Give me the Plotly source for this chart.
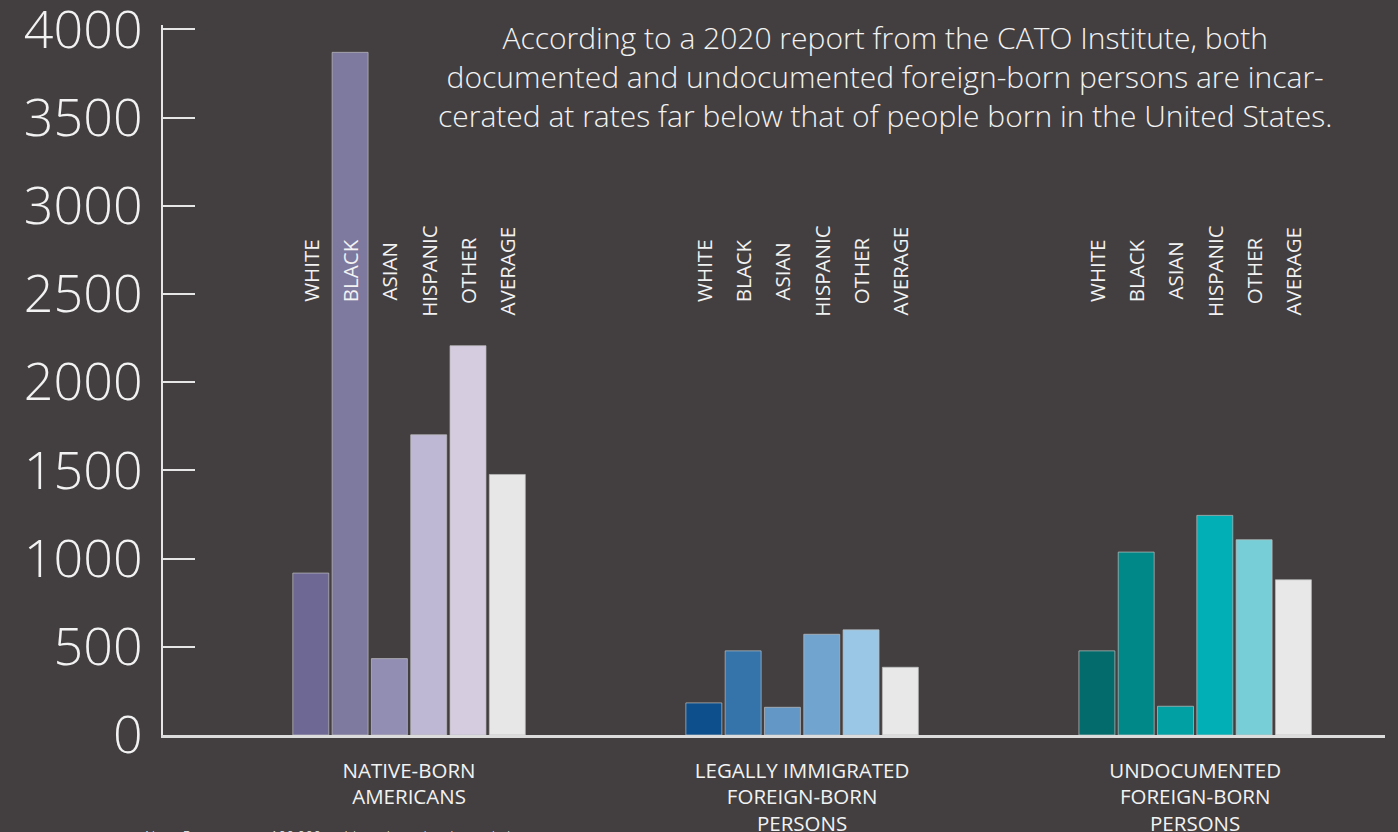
import plotly.graph_objects as go

# ---- data ----
groups = ["NATIVE-BORN<br>AMERICANS", "LEGALLY IMMIGRATED<br>FOREIGN-BORN<br>PERSONS", "UNDOCUMENTED<br>FOREIGN-BORN<br>PERSONS"]
races = ["WHITE", "BLACK", "ASIAN", "HISPANIC", "OTHER", "AVERAGE"]
native_born = [918, 3870, 433, 1702, 2207, 1477]
legal_immigrants = [182, 477, 157, 571, 596, 384]
undocumented = [477, 1037, 163, 1245, 1107, 880]
y_ticks = [0, 500, 1000, 1500, 2000, 2500, 3000, 3500, 4000]
title_text = ("According to a 2020 report from the CATO Institute, both<br>"
              "documented and undocumented foreign-born persons are incar-<br>"
              "cerated at rates far below that of people born in the United States.")
note_text = "Note: Rates are per 100,000 residents in each subpopulation"

# ---- styles ----
BG = "#433f40"
FG = "#f2f2f2"
FONT = "Open Sans"
native_colors = ["#6e6894", "#7e799f", "#928eb3", "#bfb8d4", "#d5cce0", "#e8e7e8"]
legal_colors = ["#0c4f8c", "#3474aa", "#6397c6", "#71a5d0", "#9ac7e6", "#e8e8e8"]
undoc_colors = ["#036b6b", "#008787", "#00a0a3", "#00b0b6", "#77ced6", "#e8e8e8"]

series = [native_born, legal_immigrants, undocumented]
palettes = [native_colors, legal_colors, undoc_colors]

fig = go.Figure()
for j, race in enumerate(races):
    fig.add_trace(go.Bar(
        x=list(range(len(groups))),
        y=[s[j] for s in series],
        name=race,
        marker=dict(color=[p[j] for p in palettes],
                    line=dict(color="rgba(190,190,190,0.7)", width=1)),
        hoverinfo="skip",
    ))

BARGAP = 0.4
BARGROUPGAP = 0.085
slot = (1 - BARGAP) / len(races)

annotations = []
for gi in range(len(groups)):
    for j, race in enumerate(races):
        annotations.append(dict(
            x=gi + (j - (len(races) - 1) / 2) * slot, y=2630, xref="x", yref="y",
            text=race, textangle=-90, showarrow=False,
            font=dict(family=FONT, size=20.5, color=FG, weight=400),
            xanchor="center", yanchor="middle",
        ))

annotations.append(dict(
    x=0.591, y=1.0, xref="paper", yref="paper", text=title_text, showarrow=False,
    align="center", xanchor="center", yanchor="top", yshift=10,
    font=dict(family=FONT, size=30, color=FG, weight=300),
))
annotations.append(dict(
    x=-0.0164, y=-0.127, xref="paper", yref="paper", text=note_text, showarrow=False,
    align="left", xanchor="left", yanchor="top",
    font=dict(family=FONT, size=14, color=FG, weight=300),
))

fig.update_layout(
    width=1398, height=832,
    paper_bgcolor=BG, plot_bgcolor=BG,
    margin=dict(l=163, r=13, t=25, b=97, autoexpand=False),
    barmode="group", bargap=BARGAP, bargroupgap=BARGROUPGAP,
    showlegend=False,
    annotations=annotations,
    font=dict(family=FONT, color=FG, weight=300),
    xaxis=dict(
        tickmode="array", tickvals=list(range(len(groups))), ticktext=groups,
        range=[-0.626, 2.483], showgrid=False, zeroline=False,
        showline=True, linecolor="#dcdcdc", linewidth=3,
        ticks="", tickfont=dict(family=FONT, size=20.5, color=FG, weight=400),
        ticklabelstandoff=15, fixedrange=True, automargin=False,
    ),
    yaxis=dict(
        range=[0, 4025], tickmode="array", tickvals=y_ticks,
        showgrid=False, zeroline=False,
        showline=True, linecolor="#e6e6e6", linewidth=2,
        ticks="inside", ticklen=32, tickwidth=2, tickcolor="#e6e6e6",
        tickfont=dict(family=FONT, size=52, color=FG, weight=300),
        ticklabelstandoff=8, ticklabeloverflow="allow",
        fixedrange=True, automargin=False,
    ),
)

fig.write_html("out.html", config={"displayModeBar": False})
